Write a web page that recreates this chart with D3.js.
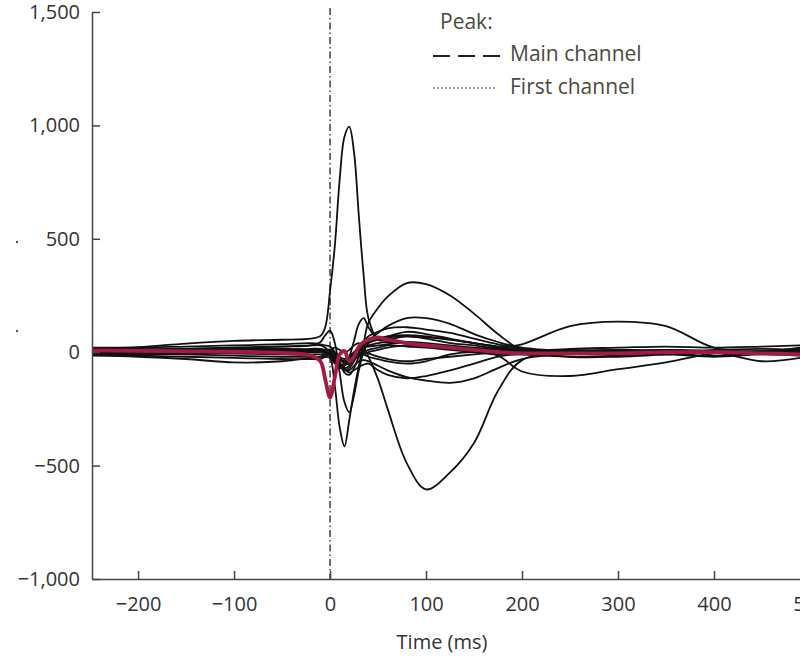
<!DOCTYPE html>
<meta charset="utf-8">
<style>
body { margin: 0; background: #fff; }
text { font-family: "Open Sans", sans-serif; }
.axis path, .axis line { stroke: #444; stroke-width: 1.5px; }
.axis text { font-size: 20px; fill: #333; }
.trace { fill: none; stroke: #111; stroke-width: 1.8px; }
.mean { fill: none; stroke: #a51a40; stroke-width: 3.8px; }
</style>
<body>
<script src="https://d3js.org/d3.v7.min.js"></script>
<script>

var width = 800, height = 660;

// sample times (ms), shared by every trace
var times = [-248, -200, -150, -100, -50, -20, -10, -5, 0, 5, 10, 15, 20, 25, 30, 35, 40, 50, 60, 80, 100, 125, 150, 175, 200, 250, 300, 350, 400, 450, 490];

// single channel traces
var traceBigPeak  = [15, 22, 38, 50, 55, 60, 72, 110, 270, 470, 760, 950, 995, 880, 600, 340, 150, 55, 55, 70, 60, 40, 30, 15, 5, 0, 5, 10, 5, 0, 5];
var traceDeepDip  = [5, 5, 10, 15, 15, 10, 5, 0, -20, -150, -330, -415, -300, -170, -60, 40, 130, 195, 245, 305, 300, 250, 170, 80, 10, -20, -20, -10, 0, 5, 0];
var traceBump0    = [10, 10, 15, 20, 25, 30, 45, 75, 95, 40, -90, -220, -265, -190, -80, 0, 40, 60, 70, 75, 70, 55, 40, 20, 5, -5, 0, 10, 5, 0, 5];
var traceBump35   = [0, 0, 5, 5, 10, 10, 10, 5, -10, -40, -70, -60, -20, 50, 125, 150, 110, 60, 70, 90, 80, 60, 40, 25, 10, 0, -5, 0, 10, 15, 10];
var traceLate600  = [-10, -10, -5, -5, 0, 0, 0, 5, 10, 20, 10, 0, 10, 30, 40, 20, -20, -120, -250, -490, -605, -530, -400, -170, -35, 0, 10, 5, 0, -5, 0];
var trace150      = [0, 0, 5, 10, 15, 10, 10, 5, -5, -30, -60, -80, -70, -40, 0, 25, 50, 85, 115, 150, 150, 125, 80, 45, 20, 5, 0, -5, 0, 5, 10];
var trace100      = [-10, -10, -5, 0, 5, 5, 10, 10, 10, -20, -50, -70, -60, -20, 20, 45, 70, 90, 105, 110, 100, 85, 60, 35, 15, 0, -10, 0, 5, 0, 0];
var trace60       = [10, 10, 15, 20, 25, 30, 30, 20, 0, -10, -40, -90, -100, -70, -20, 15, 40, 55, 65, 70, 65, 55, 40, 25, 10, 5, 0, 0, 0, -5, 0];
var traceNeg130   = [-10, -15, -20, -25, -30, -30, -30, -20, -10, -30, -60, -80, -80, -60, -40, -35, -40, -60, -80, -110, -125, -135, -115, -70, -30, -5, 0, -10, 0, 0, 0];
var traceNeg110   = [0, -5, -10, -15, -20, -20, -20, -10, -5, -20, -50, -70, -90, -80, -65, -55, -50, -80, -100, -115, -105, -80, -50, -20, -5, 0, 10, 5, 0, -5, 0];
var trace300      = [15, 15, 10, 5, 0, 5, 5, 10, 10, 0, -20, -30, -20, 0, 20, 25, 30, 40, 45, 40, 30, 20, 15, 20, 35, 115, 135, 115, 20, 0, 10];
var traceDip220   = [-5, -5, 0, 0, 5, 5, 0, -5, -10, -20, -30, -40, -30, -10, 0, -10, -20, -30, -40, -50, -40, -10, 0, -15, -85, -105, -75, -45, -5, 5, 15];
var traceDip460   = [0, 0, 5, 5, 10, 15, 15, 10, 5, -10, -30, -50, -50, -30, -10, 0, 10, 20, 30, 25, 20, 10, 0, -10, -10, -5, 0, 5, 0, -40, -25];
var traceLow      = [-15, -20, -30, -45, -40, -25, -20, -20, -25, -50, -70, -60, -40, -30, -20, -10, 0, 10, 20, 30, 25, 15, 10, 0, -10, -20, -15, -10, -20, -10, -15];
var traceHigh     = [20, 20, 25, 30, 35, 40, 35, 30, 25, 0, -30, -40, -30, -10, 10, 20, 25, 30, 35, 45, 40, 30, 20, 10, 5, 15, 20, 25, 20, 25, 30];
var traceFlat     = [0, 5, 0, -5, -10, -10, -10, -10, -15, -40, -60, -50, -20, 0, 10, 5, -5, -20, -30, -40, -30, -20, -10, 0, 5, 10, 5, -5, -15, 0, 20];

// averaged trace (red)
var meanTrace     = [8, 6, 4, 2, -3, -15, -40, -120, -200, -110, -10, 5, -40, -20, 25, 45, 55, 65, 55, 40, 30, 20, 10, 0, -5, -5, -5, 0, 0, -5, -10];

var traces = [traceBigPeak, traceDeepDip, traceBump0, traceBump35, traceLate600, trace150, trace100, trace60,
  traceNeg130, traceNeg110, trace300, traceDip220, traceDip460, traceLow, traceHigh, traceFlat];

var xTicks = [-200, -100, 0, 100, 200, 300, 400, 500];
var yTicks = [-1000, -500, 0, 500, 1000, 1500];

var xScale = d3.scaleLinear().domain([-248, 500]).range([92, 810]);
var yScale = d3.scaleLinear().domain([-1000, 1500]).range([579, 12]);

var svg = d3.select("body").append("svg")
    .attr("width", width)
    .attr("height", height);

var line = d3.line()
    .x((d, i) => xScale(times[i]))
    .y(d => yScale(d))
    .curve(d3.curveCatmullRom.alpha(0.5));

// zero marker (dash-dot)
svg.append("line")
    .attr("x1", xScale(0)).attr("x2", xScale(0))
    .attr("y1", 8).attr("y2", yScale(-1000))
    .attr("stroke", "#222")
    .attr("stroke-width", 1.3)
    .attr("stroke-dasharray", "7,3,1.5,3");

svg.selectAll("path.trace")
  .data(traces)
  .enter()
  .append("path")
    .attr("class", "trace")
    .attr("d", d => line(d));

svg.append("path")
    .attr("class", "mean")
    .attr("d", line(meanTrace));

svg.append("g")
    .attr("class", "axis")
    .attr("transform", `translate(0, ${yScale(-1000)})`)
    .call(d3.axisBottom(xScale).tickValues(xTicks).tickSizeInner(-8).tickSizeOuter(0).tickPadding(18).tickFormat(d3.format(",")));

svg.append("g")
    .attr("class", "axis")
    .attr("transform", `translate(${xScale(-248)}, 0)`)
    .call(d3.axisLeft(yScale).tickValues(yTicks).tickSizeInner(-8).tickSizeOuter(0).tickPadding(12).tickFormat(d3.format(",")));

svg.append("text")
    .attr("x", 442)
    .attr("y", 649)
    .attr("text-anchor", "middle")
    .attr("font-size", 20)
    .attr("fill", "#333")
    .text("Time (ms)");

// legend
var legend = svg.append("g").attr("fill", "#4a4a3e").attr("font-size", 21);

legend.append("text").attr("x", 440).attr("y", 29).text("Peak:");

legend.append("line")
    .attr("x1", 433).attr("x2", 500).attr("y1", 56).attr("y2", 56)
    .attr("stroke", "#222").attr("stroke-width", 2)
    .attr("stroke-dasharray", "17,8");
legend.append("text").attr("x", 510).attr("y", 61).text("Main channel");

legend.append("line")
    .attr("x1", 433).attr("x2", 497).attr("y1", 88).attr("y2", 88)
    .attr("stroke", "#444").attr("stroke-width", 1)
    .attr("stroke-dasharray", "2,2");
legend.append("text").attr("x", 510).attr("y", 94).text("First channel");

// small stray marks at the left edge
svg.selectAll("circle.mark")
  .data([242, 331])
  .enter()
  .append("circle")
    .attr("cx", 17)
    .attr("cy", d => d)
    .attr("r", 1.2)
    .attr("fill", "#555");

</script>
